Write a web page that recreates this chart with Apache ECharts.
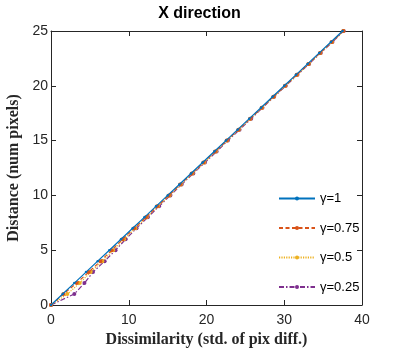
<!DOCTYPE html>
<html>
<head>
<meta charset="utf-8">
<script src="https://cdn.jsdelivr.net/npm/echarts@6/dist/echarts.min.js"></script>
<style>
  html, body { margin: 0; padding: 0; background: #fff; }
  #chart { width: 399px; height: 348px; }
</style>
</head>
<body>
<div id="chart"></div>
<script>
// distance in pixels (y) and dissimilarity for each gamma (x)
var distance = [0, 1, 2, 3, 4, 5, 6, 7, 8, 9, 10, 11, 12, 13, 14, 15, 16, 17, 18, 19, 20, 21, 22, 23, 24, 25]
var gamma1 = [0, 1.5, 3.0, 4.5, 6.0, 7.5, 9.0, 10.5, 12.0, 13.5, 15.0, 16.5, 18.0, 19.5, 21.0, 22.5, 24.0, 25.5, 27.0, 28.5, 30.0, 31.5, 33.0, 34.5, 36.0, 37.5]
var gamma075 = [0, 1.6, 3.3, 4.85, 6.35, 7.8, 9.2, 10.7, 12.2, 13.65, 15.15, 16.6, 18.1, 19.6, 21.1, 22.6, 24.1, 25.6, 27.1, 28.6, 30.1, 31.6, 33.1, 34.6, 36.1, 37.6]
var gamma05 = [0, 2.1, 3.7, 5.1, 6.6, 8.0, 9.4, 10.85, 12.3, 13.75, 15.25, 16.7, 18.2, 19.7, 21.2, 22.65, 24.15, 25.65, 27.15, 28.65, 30.15, 31.65, 33.15, 34.65, 36.15, 37.6]
var gamma025 = [0, 3.0, 4.3, 5.4, 6.9, 8.3, 9.6, 11.0, 12.45, 13.9, 15.35, 16.8, 18.3, 19.8, 21.3, 22.75, 24.25, 25.75, 27.2, 28.7, 30.2, 31.7, 33.2, 34.7, 36.2, 37.65]
var seriesNames = ['γ=1', 'γ=0.75', 'γ=0.5', 'γ=0.25']
var xTicks = [0, 10, 20, 30, 40]
var yTicks = [0, 5, 10, 15, 20, 25]

var colors = ['#0072BD', '#D95319', '#EDB120', '#7E2F8E']
var dashes = ['solid', [4, 2.5], [1.2, 1.2], [5, 2, 1.5, 2]]
var allX = [gamma1, gamma075, gamma05, gamma025]

var chart = echarts.init(document.getElementById('chart'))

var serieDatas = []
for (var i = 0; i < seriesNames.length; i++) {
  var pts = []
  for (var j = 0; j < distance.length; j++) {
    pts.push([allX[i][j], distance[j]])
  }
  serieDatas.push({
    name: seriesNames[i],
    type: 'line',
    data: pts,
    symbol: 'circle',
    symbolSize: i === 0 ? 2.5 : 4,
    showSymbol: true,
    color: colors[i],
    lineStyle: { color: colors[i], width: 1.2, type: dashes[i] },
    itemStyle: { color: colors[i] },
    animation: false,
    z: 10 - i
  })
}

var axisCommon = {
  axisLine: { show: true, onZero: false, lineStyle: { color: '#262626', width: 1 } },
  axisTick: { show: true, inside: true, length: 5, lineStyle: { color: '#262626' } },
  splitLine: { show: false }
}

chart.setOption({
  title: {
    text: 'X direction',
    left: 'center',
    top: 1,
    textStyle: { fontFamily: 'Liberation Sans', fontWeight: 'bold', fontSize: 16, color: '#000' }
  },
  grid: { left: 51, right: 37, top: 31, bottom: 43, outerBoundsMode: 'none', containLabel: false },
  legend: {
    orient: 'vertical',
    left: 273,
    top: 187,
    itemWidth: 36,
    itemHeight: 5,
    itemGap: 16.5,
    data: seriesNames,
    textStyle: { fontFamily: 'Liberation Sans', fontSize: 13, color: '#000' }
  },
  xAxis: [
    Object.assign({
      type: 'value', min: xTicks[0], max: xTicks[xTicks.length - 1], interval: 10,
      name: 'Dissimilarity (std. of pix diff.)',
      nameLocation: 'middle',
      nameGap: 25,
      nameTextStyle: { fontFamily: 'Liberation Serif', fontWeight: 'bold', fontSize: 16, color: '#262626' },
      axisLabel: { fontFamily: 'Liberation Sans', fontSize: 14, color: '#262626', margin: 8 }
    }, axisCommon),
    Object.assign({
      type: 'value', position: 'top', min: xTicks[0], max: xTicks[xTicks.length - 1], interval: 10,
      axisLabel: { show: false }
    }, axisCommon)
  ],
  yAxis: [
    Object.assign({
      type: 'value', min: yTicks[0], max: yTicks[yTicks.length - 1], interval: 5,
      name: 'Distance (num pixels)',
      nameLocation: 'middle',
      nameGap: 20,
      nameTextStyle: { fontFamily: 'Liberation Serif', fontWeight: 'bold', fontSize: 16, color: '#262626' },
      axisLabel: { fontFamily: 'Liberation Sans', fontSize: 14, color: '#262626', margin: 3 }
    }, axisCommon),
    Object.assign({
      type: 'value', position: 'right', min: yTicks[0], max: yTicks[yTicks.length - 1], interval: 5,
      axisLabel: { show: false }
    }, axisCommon)
  ],
  series: serieDatas
})
</script>
</body>
</html>
